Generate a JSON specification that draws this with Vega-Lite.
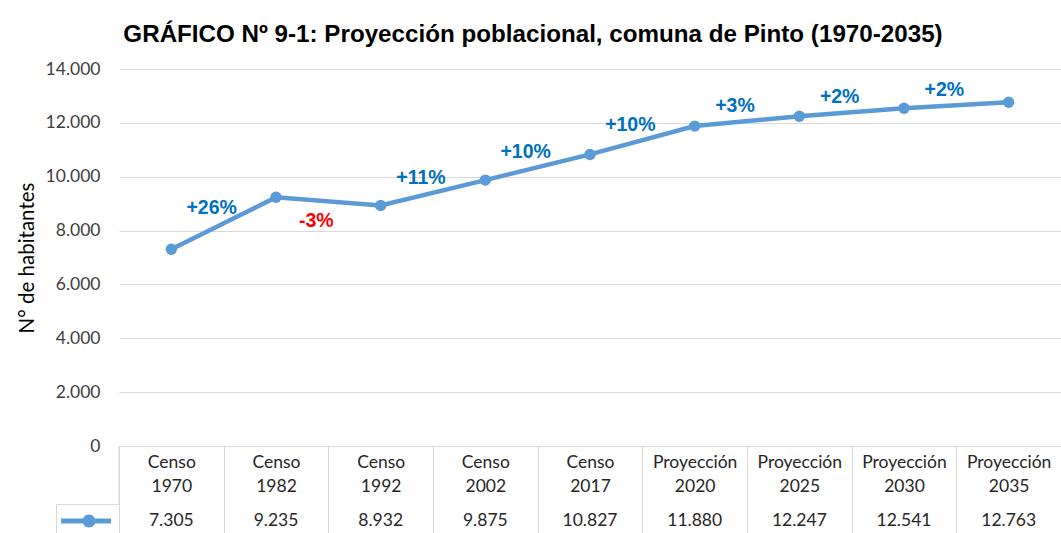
{
  "$schema": "https://vega.github.io/schema/vega-lite/v6.json",
  "autosize": {"type": "none"},
  "width": 942,
  "height": 377,
  "padding": {"left": 119, "top": 69, "right": 0, "bottom": 87},
  "config": {
    "view": {"stroke": null},
    "locale": {"number": {"decimal": ",", "thousands": ".", "grouping": [3], "currency": ["$", ""]}}
  },
  "title": {
    "text": "GRÁFICO Nº 9-1: Proyección poblacional, comuna de Pinto (1970-2035)",
    "font": "Liberation Sans Narrow, Liberation Sans, sans-serif",
    "fontSize": 24.2,
    "fontWeight": "bold",
    "color": "#000000",
    "anchor": "middle",
    "baseline": "alphabetic",
    "dx": -57,
    "offset": -6
  },
  "datasets": {
    "poblacion": [
      {"cat": "Censo 1970", "pob": 7305, "serie": "Población"},
      {"cat": "Censo 1982", "pob": 9235, "serie": "Población"},
      {"cat": "Censo 1992", "pob": 8932, "serie": "Población"},
      {"cat": "Censo 2002", "pob": 9875, "serie": "Población"},
      {"cat": "Censo 2017", "pob": 10827, "serie": "Población"},
      {"cat": "Proyección 2020", "pob": 11880, "serie": "Población"},
      {"cat": "Proyección 2025", "pob": 12247, "serie": "Población"},
      {"cat": "Proyección 2030", "pob": 12541, "serie": "Población"},
      {"cat": "Proyección 2035", "pob": 12763, "serie": "Población"}
    ],
    "variaciones": [
      {"hasta": "Censo 1982", "pct": "+26%", "signo": "pos", "desde_pob": 7305, "hasta_pob": 9235},
      {"hasta": "Censo 1992", "pct": "-3%", "signo": "neg", "desde_pob": 9235, "hasta_pob": 8932},
      {"hasta": "Censo 2002", "pct": "+11%", "signo": "pos", "desde_pob": 8932, "hasta_pob": 9875},
      {"hasta": "Censo 2017", "pct": "+10%", "signo": "pos", "desde_pob": 9875, "hasta_pob": 10827},
      {"hasta": "Proyección 2020", "pct": "+10%", "signo": "pos", "desde_pob": 10827, "hasta_pob": 11880},
      {"hasta": "Proyección 2025", "pct": "+3%", "signo": "pos", "desde_pob": 11880, "hasta_pob": 12247},
      {"hasta": "Proyección 2030", "pct": "+2%", "signo": "pos", "desde_pob": 12247, "hasta_pob": 12541},
      {"hasta": "Proyección 2035", "pct": "+2%", "signo": "pos", "desde_pob": 12541, "hasta_pob": 12763}
    ],
    "separador": [{"fila": "tabla"}]
  },
  "encoding": {
    "x": {
      "field": "cat",
      "type": "nominal",
      "scale": {
        "type": "band",
        "paddingInner": 0,
        "paddingOuter": 0,
        "domain": ["Censo 1970", "Censo 1982", "Censo 1992", "Censo 2002", "Censo 2017", "Proyección 2020", "Proyección 2025", "Proyección 2030", "Proyección 2035"]
      },
      "axis": {
        "title": null,
        "labelAngle": 0,
        "labelExpr": "split(datum.label, ' ')",
        "labelFont": "Lato",
        "labelFontSize": 17.5,
        "labelColor": "#262626",
        "labelLineHeight": 24,
        "labelBaseline": "top",
        "labelPadding": -80,
        "domainColor": "#d9d9d9",
        "tickColor": "#d9d9d9",
        "tickSize": 87,
        "tickBand": "extent",
        "grid": false
      }
    }
  },
  "layer": [
    {
      "data": {"name": "poblacion"},
      "mark": {"type": "line", "strokeWidth": 4.5},
      "encoding": {
        "y": {
          "field": "pob",
          "type": "quantitative",
          "scale": {"domain": [0, 14000], "nice": false},
          "axis": {
            "title": "N° de habitantes",
            "titleFont": "Lato",
            "titleFontSize": 20.5,
            "titleFontWeight": "normal",
            "titleColor": "#000000",
            "titlePadding": 8,
            "values": [0, 2000, 4000, 6000, 8000, 10000, 12000, 14000],
            "format": ",d",
            "labelFont": "Lato",
            "labelFontSize": 17.5,
            "labelColor": "#404040",
            "labelPadding": 19,
            "ticks": false,
            "domain": false,
            "grid": true,
            "gridColor": "#d9d9d9"
          }
        },
        "color": {
          "field": "serie",
          "type": "nominal",
          "scale": {"range": ["#5B9BD5"]},
          "legend": {
            "title": null,
            "orient": "none",
            "legendX": -63,
            "legendY": 435,
            "padding": 7,
            "strokeColor": "#d9d9d9",
            "labelExpr": "''",
            "labelOffset": 0,
            "symbolSize": 2401,
            "symbolType": "M-1.08,-0.695H0.96V-0.485H-1.08Z M0.325,-0.59A0.265,0.265 0 1 1 -0.205,-0.59A0.265,0.265 0 1 1 0.325,-0.59Z",
            "symbolFillColor": "#5B9BD5",
            "symbolStrokeWidth": 0,
            "encode": {"symbols": {"update": {"fill": {"value": "#5B9BD5"}, "stroke": {"value": "transparent"}, "opacity": {"value": 1}}}}
          }
        }
      }
    },
    {
      "data": {"name": "poblacion"},
      "mark": {"type": "point", "filled": true, "size": 130, "color": "#5B9BD5", "opacity": 1},
      "encoding": {
        "y": {"field": "pob", "type": "quantitative"}
      }
    },
    {
      "data": {"name": "poblacion"},
      "mark": {"type": "text", "font": "Lato", "fontSize": 17.5, "color": "#262626", "baseline": "middle"},
      "encoding": {
        "y": {"datum": -2785},
        "text": {"field": "pob", "type": "quantitative", "format": ",d"}
      }
    },
    {
      "data": {"name": "separador"},
      "mark": {"type": "rule", "color": "#d9d9d9", "strokeWidth": 1},
      "encoding": {
        "y": {"datum": -2117}
      }
    },
    {
      "data": {"name": "variaciones"},
      "transform": [
        {"filter": "datum.signo == 'pos'"},
        {"fold": ["desde_pob", "hasta_pob"], "as": ["extremo", "valor"]}
      ],
      "mark": {"type": "text", "font": "Liberation Sans", "fontSize": 19.5, "fontWeight": "bold", "color": "#0070C0", "dx": -12, "dy": -15, "baseline": "middle"},
      "encoding": {
        "x": {"field": "hasta", "type": "nominal", "bandPosition": 0},
        "y": {"aggregate": "mean", "field": "valor", "type": "quantitative"},
        "text": {"field": "pct", "type": "nominal"}
      }
    },
    {
      "data": {"name": "variaciones"},
      "transform": [
        {"filter": "datum.signo == 'neg'"},
        {"fold": ["desde_pob", "hasta_pob"], "as": ["extremo", "valor"]}
      ],
      "mark": {"type": "text", "font": "Liberation Sans", "fontSize": 19.5, "fontWeight": "bold", "color": "#FF0000", "dx": -12, "dy": 20, "baseline": "middle"},
      "encoding": {
        "x": {"field": "hasta", "type": "nominal", "bandPosition": 0},
        "y": {"aggregate": "mean", "field": "valor", "type": "quantitative"},
        "text": {"field": "pct", "type": "nominal"}
      }
    }
  ]
}
